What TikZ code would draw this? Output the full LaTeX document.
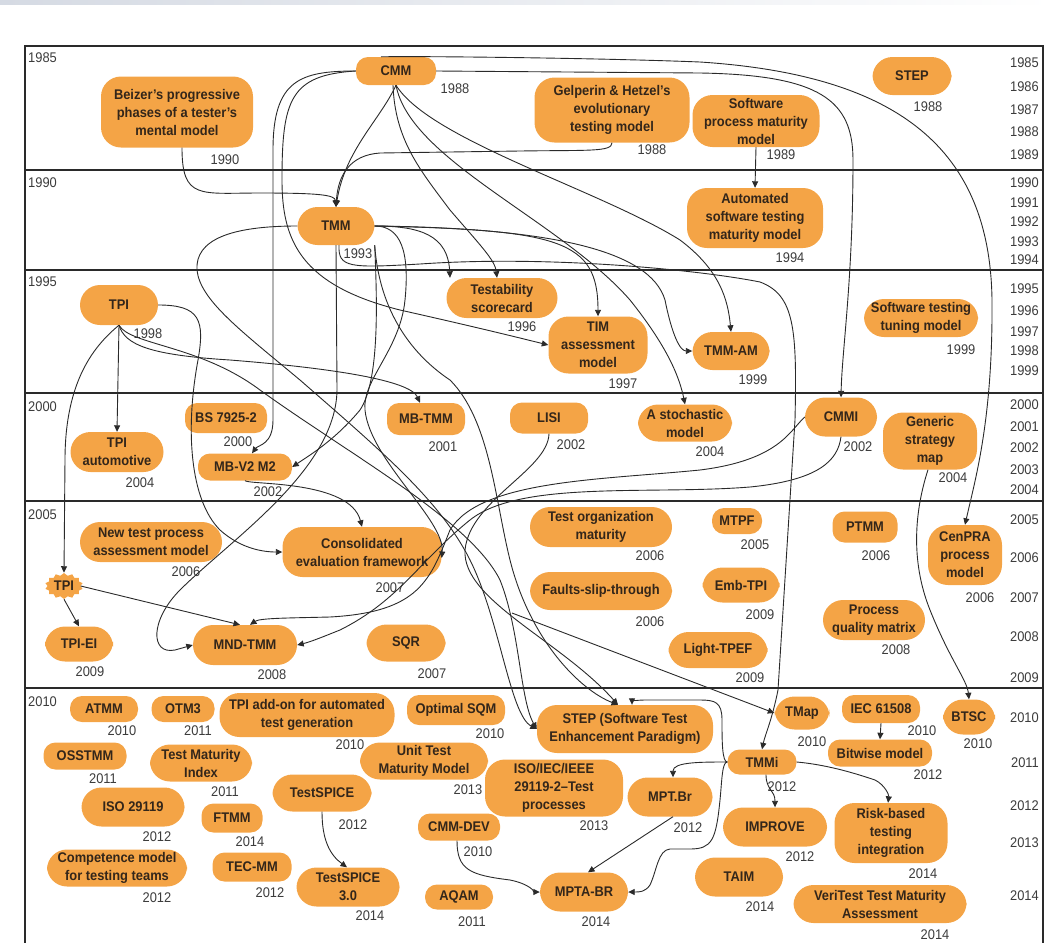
\documentclass[tikz,border=0pt]{standalone}
\usepackage{fontspec}
\setmainfont{Liberation Sans}[FakeStretch=0.92]
\usetikzlibrary{arrows.meta, shapes.symbols}

\definecolor{mdlfill}{HTML}{F4A446}
\definecolor{mdltext}{HTML}{33261A}
\definecolor{yrtext}{HTML}{3C3C3C}
\definecolor{linec}{HTML}{2A2A2A}
\definecolor{strip}{HTML}{D5DAE3}

\begin{document}
\begin{tikzpicture}[x=1pt, y=-1pt,
  mdl/.style 2 args={fill=mdlfill, rounded corners=12pt, minimum width=#1, minimum height=#2,
    inner sep=0pt, align=center, text=mdltext, font=\fontsize{14}{18}\selectfont\bfseries},
  tall/.style={rounded corners=20pt},
  yr/.style={inner sep=0pt, text=yrtext, font=\fontsize{14}{16}\selectfont},
  band/.style={draw=linec, line width=1.6pt},
  link/.style={draw=linec, line width=0.9pt, -{Triangle[length=6.5pt,width=6pt]}}]

  \useasboundingbox (0,0) rectangle (1053,943);
  \shade[left color=strip, right color=white] (0,0) rectangle (1053,4);

  % time bands
  \draw[band] (25,46) rectangle (1043,960);
  \foreach \yy in {170,270,393,501,688}
    \draw[band] (25,\yy) -- (1043,\yy);

  \node[yr, anchor=west] (b1985) at (28,58) {1985};
  \node[yr, anchor=west] (b1990) at (28,183) {1990};
  \node[yr, anchor=west] (b1995) at (28,282) {1995};
  \node[yr, anchor=west] (b2000) at (28,407) {2000};
  \node[yr, anchor=west] (b2005) at (28,515) {2005};
  \node[yr, anchor=west] (b2010) at (28,702) {2010};

  \foreach \yt/\yy in {1985/63, 1986/87, 1987/110, 1988/132, 1989/155,
      1990/183, 1991/203, 1992/222, 1993/242, 1994/260,
      1995/289, 1996/311, 1997/332, 1998/351, 1999/371,
      2000/405, 2001/427, 2002/448, 2003/470, 2004/490,
      2005/520, 2006/558, 2007/598, 2008/637, 2009/678,
      2010/718, 2011/763, 2012/806, 2013/843, 2014/896}
    \node[yr, anchor=east] (r\yt) at (1039,\yy) {\yt};

  % 1985--1989
  \node[mdl={80}{28}] (cmm) at (396,71) {CMM};
  \node[yr] (cmm-y) at (455,89) {1988};
  \node[mdl={152}{71}, tall] (beizer) at (177,112) {Beizer's progressive\\phases of a tester's\\mental model};
  \node[yr] (beizer-y) at (225,160) {1990};
  \node[mdl={155}{65}, tall] (gelp) at (612,110) {Gelperin \& Hetzel's\\evolutionary\\testing model};
  \node[yr] (gelp-y) at (652,150) {1988};
  \node[mdl={127}{52}, tall] (spmm) at (756,121) {Software\\process maturity\\model};
  \node[yr] (spmm-y) at (781,155) {1989};
  \node[mdl={79}{38}, tall] (step88) at (912,76) {STEP};
  \node[yr] (step88-y) at (928,107) {1988};

  % 1990--1994
  \node[mdl={77}{38}, tall] (tmm) at (336,226) {TMM};
  \node[yr] (tmm-y) at (358,254) {1993};
  \node[mdl={136}{60}, tall] (astmm) at (755,218) {Automated\\software testing\\maturity model};
  \node[yr] (astmm-y) at (790,258) {1994};

  % 1995--1999
  \node[mdl={78}{40}, tall] (tpi) at (119,305) {TPI};
  \node[yr] (tpi-y) at (148,334) {1998};
  \node[mdl={111}{40}, tall] (tsc) at (502,298) {Testability\\scorecard};
  \node[yr] (tsc-y) at (522,327) {1996};
  \node[mdl={99}{57}, tall] (tim) at (598,345) {TIM\\assessment\\model};
  \node[yr] (tim-y) at (623,384) {1997};
  \node[mdl={77}{38}, tall] (tmmam) at (731,351) {TMM-AM};
  \node[yr] (tmmam-y) at (753,380) {1999};
  \node[mdl={114}{38}, tall] (sttm) at (921,318) {Software testing\\tuning model};
  \node[yr] (sttm-y) at (961,350) {1999};

  % 2000--2004
  \node[mdl={82}{30}] (bs) at (226,418) {BS 7925-2};
  \node[yr] (bs-y) at (238,442) {2000};
  \node[mdl={93}{40}, tall] (tpiauto) at (117,452) {TPI\\automotive};
  \node[yr] (tpiauto-y) at (140,483) {2004};
  \node[mdl={94}{27}] (mbv) at (245,467) {MB-V2 M2};
  \node[yr] (mbv-y) at (268,492) {2002};
  \node[mdl={78}{32}] (mbtmm) at (426,419) {MB-TMM};
  \node[yr] (mbtmm-y) at (443,447) {2001};
  \node[mdl={78}{31}] (lisi) at (549,418) {LISI};
  \node[yr] (lisi-y) at (571,445) {2002};
  \node[mdl={94}{37}, tall] (stoch) at (685,423) {A stochastic\\model};
  \node[yr] (stoch-y) at (710,452) {2004};
  \node[mdl={72}{39}, tall] (cmmi) at (841,417) {CMMI};
  \node[yr] (cmmi-y) at (858,447) {2002};
  \node[mdl={94}{57}, tall] (gsm) at (930,441) {Generic\\strategy\\map};
  \node[yr] (gsm-y) at (953,478) {2004};

  % 2005--2009
  \node[mdl={142}{40}, tall] (ntpam) at (151,542) {New test process\\assessment model};
  \node[yr] (ntpam-y) at (186,572) {2006};
  \node[mdl={159}{50}, tall] (cef) at (362,552) {Consolidated\\evaluation framework};
  \node[yr] (cef-y) at (390,588) {2007};
  \node[mdl={142}{40}, tall] (tom) at (601,527) {Test organization\\maturity};
  \node[yr] (tom-y) at (650,556) {2006};
  \node[mdl={50}{26}] (mtpf) at (737,521) {MTPF};
  \node[yr] (mtpf-y) at (755,545) {2005};
  \node[mdl={65}{31}] (ptmm) at (865,527) {PTMM};
  \node[yr] (ptmm-y) at (876,556) {2006};
  \node[mdl={74}{60}, tall] (cenpra) at (965,555) {CenPRA\\process\\model};
  \node[yr] (cenpra-y) at (980,598) {2006};
  \node[mdl={142}{38}, tall] (fst) at (601,591) {Faults-slip-through};
  \node[yr] (fst-y) at (650,622) {2006};
  \node[mdl={77}{35}, tall] (embtpi) at (741,585) {Emb-TPI};
  \node[yr] (embtpi-y) at (760,615) {2009};
  \node[mdl={102}{40}, tall] (pqm) at (874,620) {Process\\quality matrix};
  \node[yr] (pqm-y) at (896,650) {2008};
  \node[starburst, starburst points=14, starburst point height=2.5pt, random starburst=0,
    fill=mdlfill, minimum width=38pt, minimum height=26pt, inner sep=0pt, text=mdltext,
    font=\fontsize{14}{16}\selectfont\bfseries] (tpib) at (64,586) {TPI};
  \node[mdl={68}{35}, tall] (tpiei) at (79,644) {TPI-EI};
  \node[yr] (tpiei-y) at (90,672) {2009};
  \node[mdl={104}{40}, tall] (mnd) at (245,645) {MND-TMM};
  \node[yr] (mnd-y) at (272,675) {2008};
  \node[mdl={79}{37}, tall] (sqr) at (406,643) {SQR};
  \node[yr] (sqr-y) at (432,674) {2007};
  \node[mdl={99}{36}, tall] (ltpef) at (718,650) {Light-TPEF};
  \node[yr] (ltpef-y) at (750,678) {2009};

  % 2010--2014
  \node[mdl={68}{26}] (atmm) at (104,709) {ATMM};
  \node[yr] (atmm-y) at (122,731) {2010};
  \node[mdl={63}{26}] (otm) at (183,709) {OTM3};
  \node[yr] (otm-y) at (198,731) {2011};
  \node[mdl={175}{44}, tall] (tpiadd) at (307,715) {TPI add-on for automated\\test generation};
  \node[yr] (tpiadd-y) at (350,745) {2010};
  \node[mdl={98}{30}] (osqm) at (456,710) {Optimal SQM};
  \node[yr] (osqm-y) at (490,734) {2010};
  \node[mdl={176}{48}, tall] (stepp) at (625,729) {STEP (Software Test\\Enhancement Paradigm)};
  \node[mdl={55}{33}, tall] (tmap) at (802,713) {TMap};
  \node[yr] (tmap-y) at (812,742) {2010};
  \node[mdl={78}{28}] (iec) at (881,709) {IEC 61508};
  \node[yr] (iec-y) at (922,731) {2010};
  \node[mdl={52}{35}, tall] (btsc) at (969,717) {BTSC};
  \node[yr] (btsc-y) at (978,744) {2010};
  \node[mdl={83}{27}] (osstmm) at (85,756) {OSSTMM};
  \node[yr] (osstmm-y) at (103,779) {2011};
  \node[mdl={102}{37}, tall] (tmi) at (201,763) {Test Maturity\\Index};
  \node[yr] (tmi-y) at (225,792) {2011};
  \node[mdl={128}{37}, tall] (utmm) at (424,761) {Unit Test\\Maturity Model};
  \node[yr] (utmm-y) at (468,790) {2013};
  \node[mdl={138}{57}, tall] (isotp) at (554,788) {ISO/IEC/IEEE\\29119-2–Test\\processes};
  \node[yr] (isotp-y) at (594,826) {2013};
  \node[mdl={69}{25}] (tmmi) at (762,762) {TMMi};
  \node[yr] (tmmi-y) at (782,787) {2012};
  \node[mdl={104}{27}] (bitw) at (880,753) {Bitwise model};
  \node[yr] (bitw-y) at (928,775) {2012};
  \node[mdl={103}{39}, tall] (iso) at (133,807) {ISO 29119};
  \node[yr] (iso-y) at (157,837) {2012};
  \node[mdl={99}{37}, tall] (tspice) at (322,793) {TestSPICE};
  \node[yr] (tspice-y) at (353,825) {2012};
  \node[mdl={61}{29}] (ftmm) at (232,818) {FTMM};
  \node[yr] (ftmm-y) at (250,842) {2014};
  \node[mdl={85}{39}, tall] (mptbr) at (670,797) {MPT.Br};
  \node[yr] (mptbr-y) at (688,828) {2012};
  \node[mdl={82}{27}] (cmmdev) at (459,827) {CMM-DEV};
  \node[yr] (cmmdev-y) at (478,852) {2010};
  \node[mdl={104}{39}, tall] (improve) at (775,827) {IMPROVE};
  \node[yr] (improve-y) at (800,857) {2012};
  \node[mdl={113}{60}, tall] (rbti) at (891,833) {Risk-based\\testing\\integration};
  \node[yr] (rbti-y) at (923,874) {2014};
  \node[mdl={140}{37}, tall] (comp) at (117,868) {Competence model\\for testing teams};
  \node[yr] (comp-y) at (157,898) {2012};
  \node[mdl={79}{29}] (tecmm) at (252,867) {TEC-MM};
  \node[yr] (tecmm-y) at (270,893) {2012};
  \node[mdl={103}{39}, tall] (tspice3) at (348,887) {TestSPICE\\3.0};
  \node[yr] (tspice3-y) at (370,916) {2014};
  \node[mdl={68}{25}] (aqam) at (459,897) {AQAM};
  \node[yr] (aqam-y) at (472,922) {2011};
  \node[mdl={88}{39}, tall] (mptabr) at (584,892) {MPTA-BR};
  \node[yr] (mptabr-y) at (596,922) {2014};
  \node[mdl={88}{39}, tall] (taim) at (739,877) {TAIM};
  \node[yr] (taim-y) at (760,907) {2014};
  \node[mdl={173}{38}, tall] (veri) at (880,904) {VeriTest Test Maturity\\Assessment};
  \node[yr] (veri-y) at (935,935) {2014};

  \coordinate (tmapsrc) at (512,613);

  % links out of CMM
  \draw[link] (cmm.south) .. controls (380,120) and (345,150) .. (tmm.north);
  \draw[link] ([xshift=-3]cmm.south) .. controls (395,140) and (420,170) .. (450,210)
    .. controls (480,245) and (495,260) .. ([xshift=-5]tsc.north);
  \draw[link] (cmm.south) .. controls (430,140) and (600,190) .. (680,240)
    .. controls (720,270) and (728,300) .. (tmmam.north);
  \draw[link] (cmm.south) .. controls (410,160) and (560,220) .. (630,300)
    .. controls (670,350) and (680,380) .. (stoch.north);
  \draw[link] (cmm.east) -- (700,73) .. controls (820,75) and (853,100) .. (853,160)
    .. controls (853,280) and (842,350) .. (cmmi.north);
  \draw[link] ([xshift=-15]cmm.north) .. controls (420,56) and (600,58) .. (700,62)
    .. controls (900,75) and (990,150) .. (992,300) .. controls (993,420) and (975,480) .. (cenpra.north);
  \draw[link] (cmm.west) .. controls (300,71) and (273,80) .. (273,150) -- (273,420)
    .. controls (273,445) and (258,445) .. ([xshift=7]mbv.north);
  \draw[link] (cmm.west) .. controls (290,75) and (282,100) .. (282,180)
    .. controls (282,240) and (300,285) .. (400,310) .. controls (480,328) and (520,338) .. (tim.west);

  \draw[link] ([xshift=5]beizer.south) .. controls (182,200) and (200,193) .. (260,193)
    .. controls (320,193) and (335,195) .. (tmm.north);
  \draw[link] (gelp.south) .. controls (612,152) and (590,150) .. (520,151) -- (380,153)
    .. controls (350,155) and (338,175) .. (tmm.north);
  \draw[link] (spmm.south) -- (astmm.north);

  % links out of TMM
  \draw[link] (tmm.east) .. controls (420,226) and (448,235) .. ([xshift=-52]tsc.north);
  \draw[link] (tmm.east) .. controls (560,230) and (598,240) .. (tim.north);
  \draw[link] (tmm.east) .. controls (550,228) and (650,250) .. (665,300)
    .. controls (672,335) and (680,351) .. (tmmam.west);
  \draw[link] ([xshift=3]tmm.south) .. controls (338,268) and (350,268) .. (420,264)
    .. controls (550,255) and (700,270) .. (760,282) .. controls (795,295) and (797,330) .. (795,420)
    -- (778,690) .. controls (772,720) and (765,735) .. (tmmi.north);
  \draw[link] (tmm.south east) .. controls (377,300) and (380,380) .. (360,410)
    .. controls (335,440) and (310,455) .. (mbv.east);
  \draw[link] (tmm.south) -- (337,390) .. controls (336,470) and (230,540) .. (180,590)
    .. controls (150,620) and (150,655) .. (175,650) -- (mnd.west);
  \draw[link] (tmm.east) .. controls (400,226) and (410,250) .. (405,300)
    .. controls (400,350) and (362,380) .. (365,410) .. controls (370,460) and (445,520) .. ([yshift=-6]cef.east);
  \draw[link] (tmm.west) .. controls (230,226) and (195,240) .. (197,270)
    .. controls (200,300) and (240,330) .. (300,380) .. controls (380,450) and (440,500) .. (470,560)
    .. controls (500,620) and (510,715) .. (stepp.west);
  \draw[link] (tmm.south east) .. controls (380,320) and (420,360) .. (450,380)
    .. controls (490,420) and (495,500) .. (510,560) .. controls (530,640) and (580,690) .. ([xshift=-7]stepp.north);

  % links out of TPI
  \draw[link] (tpi.south) -- (tpiauto.north);
  \draw[link] (tpi.south) .. controls (95,345) and (65,380) .. (65,460) -- (tpib.north);
  \draw[link] (tpi.south) .. controls (125,345) and (150,355) .. (230,360)
    .. controls (330,368) and (410,380) .. ([xshift=-6]mbtmm.north);
  \draw[link] (tpi.east) .. controls (200,305) and (205,320) .. (198,360)
    .. controls (185,430) and (190,500) .. (220,530) .. controls (240,548) and (262,552) .. (cef.west);
  \draw[link] (tpi.south) .. controls (130,345) and (200,345) .. (260,390)
    .. controls (350,455) and (470,520) .. (500,580) .. controls (520,630) and (520,700) .. (stepp.west);

  \draw[link] (mbv.south) .. controls (250,485) and (350,480) .. (cef.north);
  \draw[link] (lisi.south) .. controls (548,470) and (470,500) .. (465,550)
    .. controls (462,600) and (560,640) .. ([xshift=-7]stepp.north);

  % links out of CMMI
  \draw[link] (cmmi.west) .. controls (790,430) and (780,460) .. (700,470)
    .. controls (600,480) and (480,480) .. (450,530) .. controls (430,580) and (420,612) .. (330,617)
    .. controls (290,618) and (260,618) .. ([xshift=5]mnd.north);
  \draw[link] (cmmi.south) .. controls (838,460) and (820,480) .. (750,487)
    .. controls (650,495) and (520,480) .. (470,520) .. controls (420,560) and (400,600) .. (340,630)
    .. controls (320,638) and (310,642) .. (mnd.east);

  \draw[link] (tpib.south) -- (tpiei.north);
  \draw[link] (tpib.east) -- ([xshift=-5]mnd.north);
  \draw[link] (tmapsrc) -- (tmap.west);
  \draw[link] ([xshift=-2]gsm.south) .. controls (915,510) and (910,560) .. (930,610)
    .. controls (950,660) and (967,680) .. (btsc.north);
  \draw[link] (iec.south) -- (bitw.north);

  % links out of TMMi
  \draw[link] (tmmi.west) .. controls (722,762) and (722,740) .. (722,720)
    .. controls (722,702) and (715,700) .. (700,700) -- (645,700)
    .. controls (635,700) and (632,702) .. ([xshift=7]stepp.north);
  \draw[link] (tmmi.west) .. controls (722,762) and (722,780) .. (720,800)
    .. controls (716,840) and (712,849) .. (690,849) -- (670,849)
    .. controls (658,850) and (657,870) .. (650,885) .. controls (645,892) and (640,892) .. (mptabr.east);
  \draw[link] (tmmi.west) .. controls (700,762) and (673,762) .. ([xshift=3]mptbr.north);
  \draw[link] ([xshift=4]tmmi.south) .. controls (766,790) and (775,790) .. (improve.north);
  \draw[link] (tmmi.east) .. controls (830,765) and (860,775) .. (875,780)
    .. controls (885,785) and (889,795) .. ([xshift=-3]rbti.north);

  \draw[link] ([xshift=3]mptbr.south) -- ([xshift=4]mptabr.north);
  \draw[link] ([xshift=-2]cmmdev.south) .. controls (457,870) and (470,875) .. (510,880)
    .. controls (530,884) and (535,892) .. (mptabr.west);
  \draw[link] (tspice.south) .. controls (322,840) and (330,855) .. ([xshift=-1]tspice3.north);
\end{tikzpicture}
\end{document}
